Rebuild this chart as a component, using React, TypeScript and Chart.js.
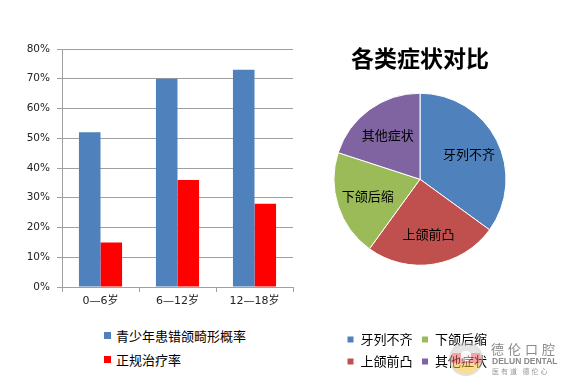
import React, { useEffect, useRef } from "react";
import { Chart, registerables } from "chart.js";

Chart.register(...registerables);

// ---- data ----
const ageGroups = ["0—6岁", "6—12岁", "12—18岁"];
const malocclusionRate = [52, 70, 73];
const treatmentRate = [15, 36, 28];
const barSeriesNames = ["青少年患错颌畸形概率", "正规治疗率"];
const barColors = ["#4F81BD", "#FF0000"];
const yMin = 0;
const yMax = 80;
const yStep = 10;

const pieTitle = "各类症状对比";
const symptomLabels = ["牙列不齐", "上颌前凸", "下颌后缩", "其他症状"];
const symptomShares = [35, 25, 20, 20];
const pieColors = ["#4F81BD", "#C0504D", "#9BBB59", "#8064A2"];
const pieLegendOrder = [0, 2, 1, 3];

const LATIN = "'DejaVu Sans', 'Noto Sans CJK SC', sans-serif";
const CJK = "'Noto Sans CJK SC', 'DejaVu Sans', sans-serif";
const GRID = "#a0a0a0";

function BarChart() {
  const ref = useRef<HTMLCanvasElement>(null);
  useEffect(() => {
    const chart = new Chart(ref.current as HTMLCanvasElement, {
      type: "bar",
      data: {
        labels: ageGroups,
        datasets: [
          { label: barSeriesNames[0], data: malocclusionRate, backgroundColor: barColors[0], borderWidth: 0 },
          { label: barSeriesNames[1], data: treatmentRate, backgroundColor: barColors[1], borderWidth: 0 },
        ],
      },
      options: {
        animation: false,
        responsive: false,
        layout: { padding: { left: 0, top: 49, right: 7, bottom: 8 } },
        datasets: { bar: { categoryPercentage: 0.56, barPercentage: 1 } },
        plugins: { legend: { display: false }, tooltip: { enabled: false } },
        scales: {
          x: {
            grid: { offset: true, drawOnChartArea: false, drawTicks: true, tickLength: 5, color: GRID },
            border: { display: true, color: GRID },
            ticks: { padding: 3, color: "#222", font: { family: LATIN, size: 11 } },
            afterFit: (s: any) => { s.height = 25; },
          },
          y: {
            min: yMin,
            max: yMax,
            ticks: {
              stepSize: yStep,
              padding: 7,
              color: "#222",
              font: { family: LATIN, size: 10.5 },
              callback: (v: any) => v + "%",
            },
            grid: { color: GRID, tickLength: 5, drawTicks: true },
            border: { display: true, color: GRID },
            afterFit: (s: any) => { s.width = 62; },
          },
        },
      },
    });
    return () => chart.destroy();
  }, []);
  return (
    <canvas
      ref={ref}
      width={300}
      height={320}
      style={{ position: "absolute", left: 0, top: 0, width: 300, height: 320 }}
    />
  );
}

const pieLabelPlugin = {
  id: "pieLabels",
  afterDatasetsDraw(chart: any) {
    const ctx = chart.ctx;
    const meta = chart.getDatasetMeta(0);
    ctx.save();
    ctx.font = `13px ${CJK}`;
    ctx.fillStyle = "#000";
    ctx.textAlign = "center";
    ctx.textBaseline = "middle";
    meta.data.forEach((arc: any, i: number) => {
      const p = arc.getProps(["x", "y", "startAngle", "endAngle", "outerRadius"], true);
      const mid = (p.startAngle + p.endAngle) / 2;
      const r = p.outerRadius * 0.64;
      ctx.fillText(chart.data.labels[i], p.x + Math.cos(mid) * r, p.y + Math.sin(mid) * r);
    });
    ctx.restore();
  },
};

function PieChart() {
  const ref = useRef<HTMLCanvasElement>(null);
  useEffect(() => {
    const chart = new Chart(ref.current as HTMLCanvasElement, {
      type: "pie",
      data: {
        labels: symptomLabels,
        datasets: [
          {
            data: symptomShares,
            backgroundColor: pieColors,
            borderColor: "#ffffff",
            borderWidth: 1,
            clip: false,
          },
        ],
      },
      plugins: [pieLabelPlugin],
      options: {
        animation: false,
        responsive: false,
        radius: 86,
        layout: { padding: { left: 13, right: 13, top: 0, bottom: 0 } },
        plugins: {
          tooltip: { enabled: false },
          title: {
            display: true,
            text: pieTitle,
            color: "#000",
            font: { family: CJK, size: 23, weight: "bold" },
            padding: { top: 14.7, bottom: 10 },
          },
          legend: {
            position: "bottom",
            align: "start",
            labels: {
              boxWidth: 7,
              boxHeight: 7,
              padding: 9,
              color: "#000",
              font: { family: CJK, size: 13 },
              sort: (a: any, b: any) => pieLegendOrder.indexOf(a.index) - pieLegendOrder.indexOf(b.index),
            },
            title: { display: true, text: "", padding: { top: 33.4, bottom: 0 }, font: { size: 12 } },
          },
        },
      } as any,
    });
    return () => chart.destroy();
  }, []);
  return (
    <canvas
      ref={ref}
      width={190}
      height={348}
      style={{ position: "absolute", left: 325, top: 30, width: 190, height: 348 }}
    />
  );
}

function BarLegend() {
  const rows = [335, 359.5];
  return (
    <>
      {barSeriesNames.map((name, i) => (
        <div
          key={name}
          style={{
            position: "absolute",
            left: 104,
            top: rows[i] - 8,
            height: 16,
            display: "flex",
            alignItems: "center",
            fontFamily: CJK,
            fontSize: 13,
            color: "#000",
            whiteSpace: "nowrap",
          }}
        >
          <span style={{ display: "inline-block", width: 7, height: 7, background: barColors[i], marginRight: 5 }} />
          <span>{name}</span>
        </div>
      ))}
    </>
  );
}

function Logo() {
  return (
    <>
      <div
        style={{
          position: "absolute",
          left: 449,
          top: 342,
          width: 34,
          height: 34,
          borderRadius: "50%",
          background:
            "radial-gradient(circle at 50% 40%, rgba(255,255,255,0.9) 0 22%, rgba(0,0,0,0) 23%), linear-gradient(180deg, #cfcfcf 0%, #cfcfcf 30%, #e35a5a 30%, #e35a5a 62%, #f2c23a 62%, #f2c23a 100%)",
          border: "2px solid #c8c8c8",
          boxSizing: "border-box",
          opacity: 0.55,
        }}
      />
      <div
        style={{
          position: "absolute",
          left: 491,
          top: 341,
          fontFamily: "'Noto Sans CJK SC', serif",
          fontSize: 13,
          lineHeight: "15px",
          letterSpacing: 4,
          color: "#8a8a8a",
          whiteSpace: "nowrap",
        }}
      >
        德伦口腔
      </div>
      <div
        style={{
          position: "absolute",
          left: 492,
          top: 356,
          fontFamily: "'Liberation Sans', sans-serif",
          fontWeight: "bold",
          fontSize: 8.5,
          lineHeight: "10px",
          color: "#8a8a8a",
          whiteSpace: "nowrap",
        }}
      >
        DELUN DENTAL
      </div>
      <div
        style={{
          position: "absolute",
          left: 492,
          top: 367,
          fontFamily: "'Noto Sans CJK SC', serif",
          fontSize: 7,
          lineHeight: "9px",
          letterSpacing: 2,
          color: "#999",
          whiteSpace: "nowrap",
        }}
      >
        医有道 德伦心
      </div>
    </>
  );
}

export default function App() {
  return (
    <div
      style={{
        position: "absolute",
        left: 0,
        top: 0,
        width: 575,
        height: 389,
        background: "#fff",
        overflow: "hidden",
      }}
    >
      <BarChart />
      <PieChart />
      <BarLegend />
      <Logo />
    </div>
  );
}
